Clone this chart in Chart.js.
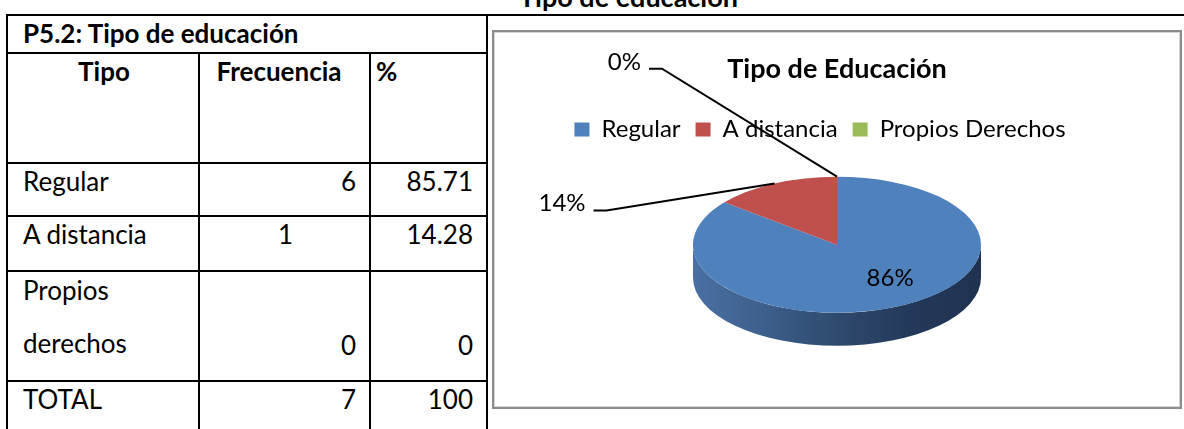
<!DOCTYPE html>
<html lang="es">
<head>
<meta charset="utf-8">
<title>Tipo de educación</title>
<script src="https://cdn.jsdelivr.net/npm/chart.js@4.4.0/dist/chart.umd.min.js"></script>
<style>
  body { margin: 0; width: 1184px; height: 429px; overflow: hidden; position: relative; background: #fff; color: #000; font-family: Lato, sans-serif; }
  #encabezado { position: absolute; left: 519px; top: -17px; font-weight: bold; font-size: 27px; line-height: 27px; white-space: nowrap; }
  #linea { position: absolute; left: 487px; top: 14px; width: 697px; height: 2px; background: #000; }
  #tabla { position: absolute; left: 6px; top: 14px; border-collapse: collapse; table-layout: fixed; width: 482px; font-size: 26px; line-height: 30px; }
  #tabla td, #tabla th { border: 2px solid #000; padding: 2px 13px 0 15px; vertical-align: top; white-space: nowrap; overflow: hidden; font-weight: normal; }
  #tabla th { font-weight: bold; text-align: center; }
  #tabla .izq { text-align: left; }
  #tabla th.pct { text-align: left; padding-left: 5px; }
  #tabla .num { text-align: right; }
  #tabla .fila2 .tipo { white-space: normal; line-height: 53px; padding-top: 0; }
  #tabla .fila2 .tipo div { margin-top: -8px; }
  #tabla .fila2 .dato { vertical-align: bottom; padding-bottom: 20px; }
  #marco { position: absolute; left: 492px; top: 30px; width: 690px; height: 379px; box-sizing: border-box; border: 2px solid #8c8c8c; box-shadow: inset 0 0 0 1px #d4d4d4; }
  #grafico { display: block; }
</style>
</head>
<body>
<div id="encabezado">Tipo de educación</div>
<div id="linea"></div>
<table id="tabla">
  <colgroup><col style="width:192px"><col style="width:171px"><col style="width:117px"></colgroup>
  <tr style="height:38px"><th colspan="3" class="izq">P5.2: Tipo de educación</th></tr>
  <tr style="height:110px"><th>Tipo</th><th style="padding-right:26px">Frecuencia</th><th class="pct">%</th></tr>
  <tbody id="cuerpo"></tbody>
</table>
<div id="marco"><canvas id="grafico" width="686" height="375"></canvas></div>

<script>
// datos
const tipos = ['Regular', 'A distancia', 'Propios Derechos'];
const tiposTabla = ['Regular', 'A distancia', 'Propios derechos'];
const frecuencias = [6, 1, 0];
const porcentajes = [85.71, 14.28, 0];
const totalFrecuencia = 7;
const totalPorcentaje = 100;

const colores = ['#4f81bd', '#c0504d', '#9bbb59'];
const alineacionFrecuencia = ['right', 'center', 'right'];
const alturasFila = [53, 55, 110];

// tabla
const cuerpo = document.getElementById('cuerpo');
tiposTabla.forEach((tipo, i) => {
    const tr = document.createElement('tr');
    tr.className = 'fila' + i;
    tr.style.height = alturasFila[i] + 'px';
    tr.innerHTML = '<td class="tipo"><div>' + tipo + '</div></td>' +
        '<td class="dato" style="text-align:' + alineacionFrecuencia[i] + '">' + frecuencias[i] + '</td>' +
        '<td class="dato num">' + porcentajes[i] + '</td>';
    cuerpo.appendChild(tr);
});
const filaTotal = document.createElement('tr');
filaTotal.className = 'fila3';
filaTotal.style.height = '60px';
filaTotal.innerHTML = '<td>TOTAL</td><td class="num">' + totalFrecuencia + '</td><td class="num">' + totalPorcentaje + '</td>';
cuerpo.appendChild(filaTotal);

// pastel con efecto 3D: lateral, aplastado y etiquetas con guias
const pastel3d = {
    id: 'pastel3d',
    afterLayout(chart, args, opts) {
        // la leyenda del original queda algo corrida a la izquierda
        chart.legend.left += opts.leyendaDx;
        chart.legend.right += opts.leyendaDx;
    },
    beforeDatasetsDraw(chart, args, opts) {
        const ctx = chart.ctx;
        const arcos = chart.getDatasetMeta(0).data;
        const cx = arcos[0].x, cy = arcos[0].y, r = arcos[0].outerRadius;
        const ry = r * opts.inclinacion;
        const grad = ctx.createLinearGradient(cx - r, 0, cx + r, 0);
        opts.lateral.forEach(([pos, c]) => grad.addColorStop(pos, c));
        arcos.forEach(arco => {
            const a = Math.max(arco.startAngle, 0);
            const b = Math.min(arco.endAngle, Math.PI);
            if (b <= a) return;
            ctx.beginPath();
            ctx.ellipse(cx, cy, r, ry, 0, a, b);
            ctx.ellipse(cx, cy + opts.grosor, r, ry, 0, b, a, true);
            ctx.closePath();
            ctx.fillStyle = grad;
            ctx.fill();
        });
        ctx.save();
        ctx.translate(cx, cy);
        ctx.scale(1, opts.inclinacion);
        ctx.translate(-cx, -cy);
    },
    afterDatasetsDraw(chart, args, opts) {
        const ctx = chart.ctx;
        ctx.restore();
        const arcos = chart.getDatasetMeta(0).data;
        const valores = chart.data.datasets[0].data;
        const total = valores.reduce((s, v) => s + v, 0);
        const cx = arcos[0].x, cy = arcos[0].y, r = arcos[0].outerRadius;
        const ry = r * opts.inclinacion;
        ctx.save();
        ctx.font = opts.tamano + 'px Lato, sans-serif';
        ctx.fillStyle = '#000';
        ctx.strokeStyle = '#000';
        ctx.lineWidth = 2;
        arcos.forEach((arco, i) => {
            const texto = Math.round(valores[i] / total * 100) + '%';
            const t = (arco.startAngle + arco.endAngle) / 2;
            const guia = opts.guias[i];
            if (!guia) {
                ctx.textAlign = 'center';
                ctx.textBaseline = 'middle';
                ctx.fillText(texto, cx + Math.cos(t) * r * 0.85, cy + Math.sin(t) * ry * 0.54);
                return;
            }
            const ax = cx + Math.cos(t) * r, ay = cy + Math.sin(t) * ry;
            const ex = ax + guia.dx, ey = ay + guia.dy;
            ctx.beginPath();
            ctx.moveTo(ax, ay);
            ctx.lineTo(ex, ey);
            ctx.lineTo(ex - 13, ey);
            ctx.stroke();
            ctx.textAlign = 'right';
            ctx.textBaseline = 'alphabetic';
            ctx.fillText(texto, ex - 21, ey + 1);
        });
        ctx.restore();
    }
};

Chart.defaults.font.family = 'Lato, sans-serif';
Chart.defaults.color = '#000';

new Chart(document.getElementById('grafico'), {
    type: 'pie',
    data: {
        labels: tipos,
        datasets: [{
            data: porcentajes,
            backgroundColor: colores,
            borderWidth: 0,
            radius: 144,
            clip: false
        }]
    },
    options: {
        responsive: false,
        animation: false,
        events: [],
        layout: { padding: { bottom: 69 } },
        plugins: {
            title: {
                display: true,
                text: 'Tipo de Educación',
                font: { size: 27, weight: 'bold' },
                color: '#000',
                padding: { top: 21, bottom: 17 }
            },
            legend: {
                position: 'top',
                labels: { boxWidth: 15, boxHeight: 14, padding: 15, font: { size: 24 }, color: '#000' }
            },
            tooltip: { enabled: false },
            pastel3d: {
                inclinacion: 68 / 144,
                grosor: 33,
                tamano: 24,
                leyendaDx: -17,
                lateral: [[0, '#4a70a3'], [0.25, '#3d5f8b'], [0.5, '#2e4a6e'], [0.75, '#24395a'], [1, '#1f3250']],
                guias: { 1: { dx: -168, dy: 27 }, 2: { dx: -175, dy: -108 } }
            }
        }
    },
    plugins: [pastel3d]
});
</script>
</body>
</html>
